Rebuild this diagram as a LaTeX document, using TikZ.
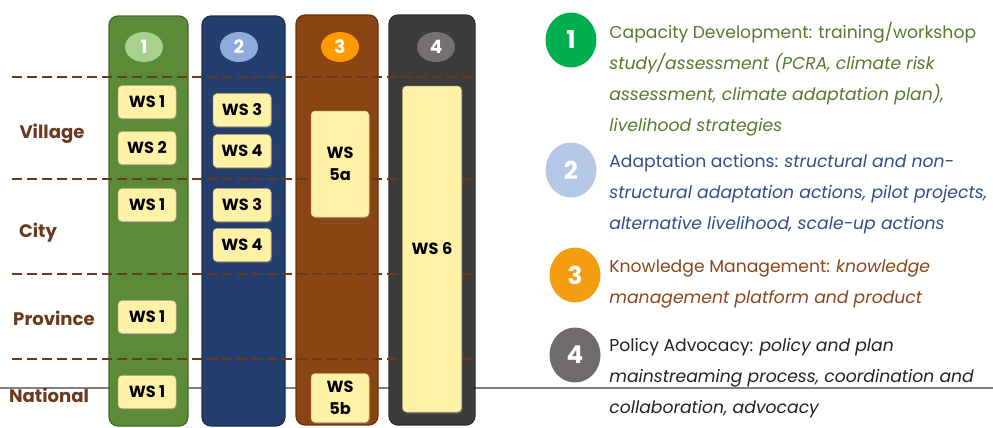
\documentclass[tikz,border=0pt]{standalone}
\usepackage{fontspec}
\setmainfont{Poppins}
\usepackage{tikz}
\usetikzlibrary{positioning}
\usetikzlibrary{shapes.geometric}
\usetikzlibrary{shadows}
\definecolor{pgreen}{HTML}{5B8B38}
\definecolor{pblue}{HTML}{243F6E}
\definecolor{pbrown}{HTML}{8B4414}
\definecolor{pdark}{HTML}{3C3C3C}
\definecolor{tgreen}{HTML}{A9D18E}
\definecolor{tblue}{HTML}{8FAADC}
\definecolor{torange}{HTML}{FF9A00}
\definecolor{tgrey}{HTML}{767171}
\definecolor{wsfill}{HTML}{FFF2A6}
\definecolor{lvl}{HTML}{6B3A1E}
\definecolor{txtgreen}{HTML}{557A30}
\definecolor{txtblue}{HTML}{2E4E8C}
\definecolor{txtbrown}{HTML}{8C461C}
\definecolor{txtdark}{HTML}{222222}
\definecolor{bgreen}{HTML}{00B04F}
\definecolor{bblue}{HTML}{B4C7E7}
\definecolor{borange}{HTML}{F59D10}
\definecolor{bgrey}{HTML}{6F6B6B}
\newdimen\px \px=0.02cm
\tikzset{pillar/.style={rectangle, rounded corners=9\px, fill=#1, draw=#1!75!black, line width=1.2\px, minimum height=410\px}}
\tikzset{badge/.style={ellipse, fill=#1, text=white, inner sep=0pt, minimum width=38\px, minimum height=30\px, font=\bfseries\fontsize{10.5}{12}\selectfont}}
\tikzset{wsbox/.style={rectangle, rounded corners=4\px, fill=wsfill, draw=wsfill!75!black, line width=.5\px, inner sep=0pt, minimum width=58\px, minimum height=33\px, align=center, font=\bfseries\fontsize{9.2}{12.5}\selectfont, drop shadow={shadow xshift=1.2\px, shadow yshift=-1.5\px, opacity=.45}}}
\tikzset{level/.style={text=lvl, font=\bfseries\fontsize{10.3}{12}\selectfont}}
\tikzset{bigdot/.style={ellipse, fill=#1, text=white, inner sep=0pt, minimum width=51\px, minimum height=55\px, font=\bfseries\fontsize{14}{16}\selectfont}}
\tikzset{note/.style={anchor=base west, align=left, inner sep=0pt, font=\fontsize{9.8}{17.6}\selectfont}}
\tikzset{sep/.style={draw=lvl, line width=2\px, dash pattern=on 10\px off 5\px}}
\begin{document}
\begin{tikzpicture}[x=0.02cm, y=-0.02cm]
\path[use as bounding box] (0,0) rectangle (993,427);
\clip (0,0) rectangle (993,427);
\draw[line width=2.2\px, draw=gray] (0,388) -- (993,388);
\node[pillar=pgreen, minimum width=79\px] (col1) at (148.5,221) {};
\node[pillar=pblue, minimum width=83\px] (col2) at (243.5,221) {};
\node[pillar=pbrown, minimum width=82\px] (col3) at (337,220) {};
\node[pillar=pdark, minimum width=86\px] (col4) at (432,220) {};
\node[badge=tgreen] (b1) at (144,47) {1};
\node[badge=tblue] (b2) at (239,47) {2};
\node[badge=torange] (b3) at (340,47) {3};
\node[badge=tgrey] (b4) at (436,47) {4};
\coordinate (d1a) at (12,77); \coordinate (d1b) at (475,77);
\coordinate (d2a) at (12,179); \coordinate (d2b) at (470,179);
\coordinate (d3a) at (12,274); \coordinate (d3b) at (475,274);
\coordinate (d4a) at (12,359); \coordinate (d4b) at (475,359);
\draw[sep] (d1a) -- (d1b);
\draw[sep] (d2a) -- (d2b);
\draw[sep] (d3a) -- (d3b);
\draw[sep] (d4a) -- (d4b);
\node[wsbox] (g1) at (147,102) {WS 1};
\node[wsbox] (g2) at (147,148) {WS 2};
\node[wsbox] (g3) at (147,205) {WS 1};
\node[wsbox] (g4) at (147,317) {WS 1};
\node[wsbox] (g5) at (147,392) {WS 1};
\node[wsbox] (u1) at (242,110) {WS 3};
\node[wsbox] (u2) at (242,151) {WS 4};
\node[wsbox] (u3) at (242,205) {WS 3};
\node[wsbox] (u4) at (242,245) {WS 4};
\node[wsbox, minimum height=106\px] (r1) at (340,164) {WS\\5a};
\node[wsbox, minimum height=49\px] (r2) at (340,398) {WS\\5b};
\node[wsbox, minimum width=59\px, minimum height=326\px] (k1) at (432,249) {WS 6};
\node[level] (village) at (52,134) {Village};
\node[level] (city) at (38,233) {City};
\node[level] (province) at (54,318) {Province};
\node[level] (national) at (49,395) {National};
\node[bigdot=bgreen] (n1) at (571,40) {1};
\node[bigdot=bblue] (n2) at (571,170) {2};
\node[bigdot=borange] (n3) at (575,275) {3};
\node[bigdot=bgrey] (n4) at (575,355) {4};
\node[note, text=txtgreen] (t1) at (609,131) {Capacity Development: training/workshop\\\textit{study/assessment (PCRA, climate risk}\\\textit{assessment, climate adaptation plan),}\\\textit{livelihood strategies}};
\node[note, text=txtblue] (t2) at (609,229) {Adaptation actions: \textit{structural and non-}\\\textit{structural adaptation actions, pilot projects,}\\\textit{alternative livelihood, scale-up actions}};
\node[note, text=txtbrown] (t3) at (609,303) {Knowledge Management: \textit{knowledge}\\\textit{management platform and product}};
\node[note, text=txtdark] (t4) at (609,413) {Policy Advocacy: \textit{policy and plan}\\\textit{mainstreaming process, coordination and}\\\textit{collaboration, advocacy}};
\end{tikzpicture}
\end{document}
